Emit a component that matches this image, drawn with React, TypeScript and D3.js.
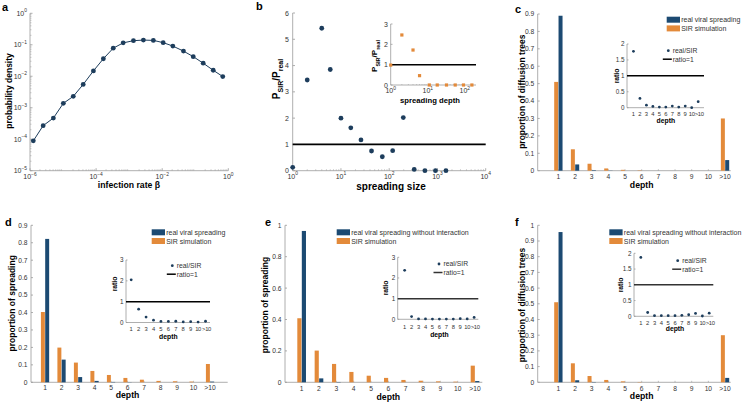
import React from 'react';
import * as d3 from 'd3';

const FONT = 'Arial, "Liberation Sans", Helvetica, sans-serif';
const BLUE = '#1c4a72';
const ORANGE = '#e38a3a';
const DOT = '#1d3d5c';
const AXIS = '#9a9a9a';
const TXT = '#333';

// a: infection rate distribution
const betaValues = [1.26e-6, 2.5e-6, 5.1e-6, 1.02e-5, 2.04e-5, 4.07e-5, 8.3e-5, 1.66e-4, 3.3e-4, 6.6e-4,
  1.35e-3, 2.7e-3, 5.4e-3, 1.07e-2, 2.1e-2, 4.4e-2, 8.7e-2, 0.174, 0.35, 0.68];
const betaDensity = [8.9e-5, 2.7e-4, 4.7e-4, 1.38e-3, 2.3e-3, 5.5e-3, 0.0148, 0.036, 0.078, 0.115,
  0.135, 0.141, 0.138, 0.117, 0.091, 0.063, 0.042, 0.026, 0.0155, 0.0098];

// b: SIR / real ratio by spreading size, inset by spreading depth
const sizeValues = [1, 2, 4, 6, 10, 16, 26, 43, 72, 118, 196, 330, 550, 910, 1500];
const sizeRatio = [0.13, 3.45, 5.42, 3.85, 2.0, 1.63, 1.17, 0.75, 0.53, 0.76, 2.02, 0.05, 0, 0, 0];
const depthValues = [1, 2, 4, 6, 11, 18, 32, 55, 92, 155];
const depthRatio = [0.98, 2.46, 1.72, 0.46, 0, 0, 0, 0, 0, 0];

const depthCats = ['1', '2', '3', '4', '5', '6', '7', '8', '9', '10', '>10'];

// c: diffusion trees
const treeSIR = [0.51, 0.123, 0.04, 0.013, 0.005, 0.002, 0, 0, 0, 0, 0.3];
const treeReal = [0.89, 0.036, 0.003, 0.001, 0, 0, 0, 0, 0, 0, 0.061];
const treeRatio = [1.77, 0.29, 0.08, 0.04, 0.02, 0.02, 0.05, 0.02, 0.05, 0, 0.19];

// d: spreading
const spreadSIR = [0.403, 0.199, 0.113, 0.065, 0.042, 0.025, 0.015, 0.008, 0.006, 0.004, 0.105];
const spreadReal = [0.822, 0.13, 0.03, 0.008, 0.002, 0.001, 0, 0, 0, 0, 0.004];
const spreadRatio = [2.05, 0.64, 0.26, 0.11, 0.05, 0.05, 0.06, 0.03, 0.04, 0.02, 0.06];

// e: spreading without interaction
const noIntSIR = [0.408, 0.202, 0.117, 0.066, 0.042, 0.028, 0.015, 0.01, 0.006, 0.004, 0.106];
const noIntReal = [0.964, 0.025, 0.002, 0, 0, 0, 0, 0, 0, 0, 0.008];
const noIntRatio = [2.37, 0.13, 0.02, 0.02, 0.01, 0.01, 0.01, 0.01, 0.03, 0.02, 0.09];

// f: diffusion trees without interaction
const noIntTreeSIR = [0.51, 0.121, 0.04, 0.015, 0.006, 0.002, 0, 0, 0, 0, 0.3];
const noIntTreeReal = [0.957, 0.013, 0.002, 0, 0, 0, 0, 0, 0, 0, 0.028];
const noIntTreeRatio = [1.87, 0.12, 0.02, 0.02, 0.02, 0.02, 0.03, 0.05, 0.09, 0.01, 0.1];

const fmt = (t: number) => String(+t.toFixed(2));

function Pow10({ x, y, exp, anchor = 'middle', size = 7 }: any) {
  return (
    <text x={x} y={y} textAnchor={anchor} fontSize={size} fill={TXT}>
      10<tspan dy={-size * 0.5} fontSize={size * 0.7}>{exp}</tspan>
    </text>
  );
}

function minorTicks(lo: number, hi: number) {
  const out: number[] = [];
  for (let e = lo; e < hi; e++) for (let k = 2; k < 10; k++) out.push(k * Math.pow(10, e));
  return out;
}

function PanelA() {
  const x = d3.scaleLog().domain([1e-6, 1]).range([30, 228.3]);
  const y = d3.scaleLog().domain([1e-5, 1]).range([170.7, 13.3]);
  const line = d3.line<number>().x((_, i) => x(betaValues[i])).y(d => y(d));
  return (
    <g>
      <text x={2} y={10.5} fontSize={11} fontWeight="bold">a</text>
      <line x1={30} x2={30} y1={13.3} y2={170.7} stroke={AXIS} strokeWidth={0.8} />
      <line x1={30} x2={228.3} y1={170.7} y2={170.7} stroke={AXIS} strokeWidth={0.8} />
      {minorTicks(-5, 0).map((t, i) => (
        <line key={'ym' + i} x1={30} x2={31.5} y1={y(t)} y2={y(t)} stroke={AXIS} strokeWidth={0.5} />
      ))}
      {minorTicks(-6, 0).map((t, i) => (
        <line key={'xm' + i} x1={x(t)} x2={x(t)} y1={170.7} y2={169.2} stroke={AXIS} strokeWidth={0.5} />
      ))}
      {d3.range(-5, 1).map(e => (
        <g key={'y' + e}>
          <line x1={30} x2={32.5} y1={y(Math.pow(10, e))} y2={y(Math.pow(10, e))} stroke={AXIS} strokeWidth={0.8} />
          <Pow10 x={27} y={y(Math.pow(10, e)) + 2.5} exp={e === 0 ? '0' : '−' + -e} anchor="end" />
        </g>
      ))}
      {[-6, -4, -2, 0].map(e => (
        <g key={'x' + e}>
          <line x1={x(Math.pow(10, e))} x2={x(Math.pow(10, e))} y1={170.7} y2={168.2} stroke={AXIS} strokeWidth={0.8} />
          <Pow10 x={x(Math.pow(10, e))} y={179} exp={e === 0 ? '0' : '−' + -e} />
        </g>
      ))}
      <path d={line(betaDensity) || ''} fill="none" stroke={DOT} strokeWidth={1} />
      {betaDensity.map((d, i) => (
        <circle key={i} cx={x(betaValues[i])} cy={y(d)} r={2.4} fill={DOT} />
      ))}
      <text x={129} y={188} textAnchor="middle" fontSize={8.7} fontWeight="bold">infection rate β</text>
      <text transform="translate(12,91) rotate(-90)" textAnchor="middle" fontSize={8.5} fontWeight="bold">probability density</text>
    </g>
  );
}

function PanelB() {
  const x = d3.scaleLog().domain([1, 1e4]).range([292.7, 485.7]);
  const y = d3.scaleLinear().domain([0, 6]).range([170.7, 13]);
  const ix = d3.scaleLog().domain([1, 200]).range([390.7, 476]);
  const iy = d3.scaleLinear().domain([0, 3]).range([85, 24]);
  return (
    <g>
      <text x={256} y={10} fontSize={11} fontWeight="bold">b</text>
      <line x1={292.7} x2={292.7} y1={13} y2={170.7} stroke={AXIS} strokeWidth={0.8} />
      <line x1={292.7} x2={485.7} y1={170.7} y2={170.7} stroke={AXIS} strokeWidth={0.8} />
      {minorTicks(0, 4).map((t, i) => (
        <line key={'xm' + i} x1={x(t)} x2={x(t)} y1={170.7} y2={169.2} stroke={AXIS} strokeWidth={0.5} />
      ))}
      {d3.range(0, 7).map(t => (
        <g key={'y' + t}>
          <line x1={292.7} x2={295} y1={y(t)} y2={y(t)} stroke={AXIS} strokeWidth={0.8} />
          <text x={289} y={y(t) + 2.5} textAnchor="end" fontSize={7} fill={TXT}>{t}</text>
        </g>
      ))}
      {d3.range(0, 5).map(e => (
        <g key={'x' + e}>
          <line x1={x(Math.pow(10, e))} x2={x(Math.pow(10, e))} y1={170.7} y2={168.2} stroke={AXIS} strokeWidth={0.8} />
          <Pow10 x={x(Math.pow(10, e))} y={178.5} exp={String(e)} />
        </g>
      ))}
      <line x1={292.7} x2={485.7} y1={y(1)} y2={y(1)} stroke="#000" strokeWidth={1.6} />
      {sizeRatio.map((d, i) => (
        <circle key={i} cx={x(sizeValues[i])} cy={y(d)} r={2.4} fill={DOT} />
      ))}
      <text x={391} y={190} textAnchor="middle" fontSize={10} fontWeight="bold">spreading size</text>
      <text transform="translate(280,79) rotate(-90)" textAnchor="middle" fontSize={10} fontWeight="bold">
        P<tspan fontSize={7} dy={3}>SIR</tspan><tspan dy={-3}>/P</tspan><tspan fontSize={7} dy={3}>real</tspan>
      </text>

      {/* inset */}
      <line x1={390.7} x2={390.7} y1={24} y2={85} stroke={AXIS} strokeWidth={0.8} />
      <line x1={390.7} x2={476} y1={85} y2={85} stroke={AXIS} strokeWidth={0.8} />
      {minorTicks(0, 3).filter(t => t < 200).map((t, i) => (
        <line key={'im' + i} x1={ix(t)} x2={ix(t)} y1={85} y2={84} stroke={AXIS} strokeWidth={0.5} />
      ))}
      {d3.range(0, 4).map(t => (
        <g key={'iy' + t}>
          <line x1={390.7} x2={392.5} y1={iy(t)} y2={iy(t)} stroke={AXIS} strokeWidth={0.8} />
          <text x={388} y={iy(t) + 2.5} textAnchor="end" fontSize={7} fill={TXT}>{t}</text>
        </g>
      ))}
      {d3.range(0, 3).map(e => (
        <Pow10 key={'ix' + e} x={ix(Math.pow(10, e))} y={93} exp={String(e)} />
      ))}
      <line x1={390.7} x2={476} y1={iy(1)} y2={iy(1)} stroke="#000" strokeWidth={1.5} />
      {depthRatio.map((d, i) => (
        <rect key={i} x={ix(depthValues[i]) - 1.6} y={iy(d) - 1.6} width={3.2} height={3.2} fill={ORANGE} />
      ))}
      <text x={430} y={102.5} textAnchor="middle" fontSize={7.7} fontWeight="bold">spreading depth</text>
      <text transform="translate(377,56) rotate(-90)" textAnchor="middle" fontSize={8} fontWeight="bold">
        P<tspan fontSize={5.5} dy={2.5}>SIR</tspan><tspan dy={-2.5}>/P</tspan><tspan fontSize={5.5} dy={2.5}>real</tspan>
      </text>
    </g>
  );
}

function RatioInset(p: any) {
  const x = d3.scaleLinear().domain(p.xDomain).range([p.left, p.right]);
  const y = d3.scaleLinear().domain([0, p.yMax]).range([p.bottom, p.top]);
  const ticks = d3.range(0, p.yMax + 1e-9, p.yStep);
  return (
    <g>
      <line x1={p.left} x2={p.left} y1={p.top} y2={p.bottom} stroke={AXIS} strokeWidth={0.8} />
      <line x1={p.left} x2={p.right} y1={p.bottom} y2={p.bottom} stroke={AXIS} strokeWidth={0.8} />
      {ticks.map(t => (
        <g key={'t' + t}>
          <line x1={p.left} x2={p.left + 1.5} y1={y(t)} y2={y(t)} stroke={AXIS} strokeWidth={0.8} />
          <text x={p.left - 2.5} y={y(t) + 2.2} textAnchor="end" fontSize={6.3} fill={TXT}>{fmt(t)}</text>
        </g>
      ))}
      {depthCats.map((c, i) => (
        <text key={c} x={x(i + 1) + (i === 10 ? 1 : 0)} y={p.catBaseline} textAnchor="middle" fontSize={5.8}
          letterSpacing={i >= 9 ? -0.3 : 0} fill={TXT}>{c}</text>
      ))}
      <line x1={p.left} x2={p.right} y1={y(1)} y2={y(1)} stroke={p.lineColor} strokeWidth={1.5} />
      {p.values.map((v: number, i: number) => (
        <circle key={i} cx={x(i + 1)} cy={y(v)} r={1.4} fill={DOT} />
      ))}
      <circle cx={p.legendX} cy={p.legendY} r={1.4} fill={DOT} />
      <text x={p.legendX + 4.5} y={p.legendY + 2.3} fontSize={6.8} fill={TXT}>real/SIR</text>
      <line x1={p.legendX - 5.5} x2={p.legendX + 3.5} y1={p.legendY + 8.5} y2={p.legendY + 8.5} stroke={p.lineColor} strokeWidth={1.5} />
      <text x={p.legendX + 4.5} y={p.legendY + 10.8} fontSize={6.8} fill={TXT}>ratio=1</text>
      <text transform={`translate(${p.ratioX + 2.5},${p.ratioY}) rotate(-90)`} textAnchor="middle" fontSize={6.8} fontWeight="bold">ratio</text>
      <text x={x(6)} y={p.depthBaseline} textAnchor="middle" fontSize={6.8} fontWeight="bold">depth</text>
    </g>
  );
}

function BarPanel(p: any) {
  const x = d3.scaleLinear().domain(p.xDomain).range([p.left, p.right]);
  const y = d3.scaleLinear().domain([0, p.yMax]).range([p.bottom, p.top]);
  const ticks = d3.range(0, p.yMax + 1e-9, p.yStep);
  return (
    <g>
      <text x={p.letterX} y={p.letterY} fontSize={11} fontWeight="bold">{p.letter}</text>
      <line x1={p.left} x2={p.left} y1={p.top} y2={p.bottom} stroke={AXIS} strokeWidth={0.8} />
      <line x1={p.left} x2={p.right} y1={p.bottom} y2={p.bottom} stroke={AXIS} strokeWidth={0.8} />
      {ticks.map(t => (
        <g key={'t' + t}>
          <line x1={p.left} x2={p.left + 2} y1={y(t)} y2={y(t)} stroke={AXIS} strokeWidth={0.8} />
          <text x={p.left - 3.5} y={y(t) + 2.4} textAnchor="end" fontSize={6.7} fill={TXT}>{fmt(t)}</text>
        </g>
      ))}
      {depthCats.map((c, i) => (
        <g key={c}>
          <line x1={x(i + 1)} x2={x(i + 1)} y1={p.bottom} y2={p.bottom - 1.5} stroke={AXIS} strokeWidth={0.6} />
          <text x={x(i + 1)} y={p.catBaseline} textAnchor="middle" fontSize={6.7} fill={TXT}>{c}</text>
        </g>
      ))}
      {p.sir.map((v: number, i: number) => (
        <rect key={'s' + i} x={x(i + 1 - 0.25)} y={y(v)} width={x(i + 0.99) - x(i + 0.75)} height={p.bottom - y(v)} fill={ORANGE} />
      ))}
      {p.real.map((v: number, i: number) => (
        <rect key={'r' + i} x={x(i + 1.01)} y={y(v)} width={x(i + 1.25) - x(i + 1.01)} height={p.bottom - y(v)} fill={BLUE} />
      ))}
      <rect x={p.legendX} y={p.legendY} width={13.3} height={6} fill={BLUE} />
      <text x={p.legendX + 14.5} y={p.legendY + 5.5} fontSize={7} fill={TXT}>{p.legendLabel}</text>
      <rect x={p.legendX} y={p.legendY + 8.7} width={13.3} height={6} fill={ORANGE} />
      <text x={p.legendX + 14.5} y={p.legendY + 14.2} fontSize={7} fill={TXT}>SIR simulation</text>
      <text x={x(6)} y={p.depthBaseline} textAnchor="middle" fontSize={8.7} fontWeight="bold">depth</text>
      <text transform={`translate(${p.yLabelX + 3},${p.yLabelY}) rotate(-90)`} textAnchor="middle" fontSize={8.5} fontWeight="bold">{p.yLabel}</text>
      <RatioInset {...p.inset} />
    </g>
  );
}

export default function App() {
  return (
    <svg width={744} height={404} style={{ position: 'absolute', left: 0, top: 0, background: '#fff', fontFamily: FONT }}>
      <PanelA />
      <PanelB />
      <BarPanel
        letter="c" letterX={515} letterY={12.7}
        left={537.7} right={730.7} top={14} bottom={170.7} yMax={0.9} yStep={0.1} xDomain={[-0.24, 11.34]}
        sir={treeSIR} real={treeReal}
        legendX={666.7} legendY={16.7} legendLabel="real viral spreading"
        catBaseline={178.5} depthBaseline={187.5}
        yLabel="proportion of diffusion trees" yLabelX={521.5} yLabelY={91.7}
        inset={{
          left: 627, right: 704, top: 44, bottom: 107.7, yMax: 2, yStep: 0.5, xDomain: [0, 11.9],
          values: treeRatio, legendX: 668.3, legendY: 50.7, lineColor: '#000',
          ratioX: 616, ratioY: 76, catBaseline: 116, depthBaseline: 122.5,
        }}
      />
      <BarPanel
        letter="d" letterX={5} letterY={226}
        left={31} right={227.7} top={225.3} bottom={382.3} yMax={0.9} yStep={0.1} xDomain={[0.15, 12.07]}
        sir={spreadSIR} real={spreadReal}
        legendX={151.7} legendY={229.3} legendLabel="real viral spreading"
        catBaseline={390} depthBaseline={398}
        yLabel="proportion of spreading" yLabelX={11.5} yLabelY={303.3}
        inset={{
          left: 126, right: 210, top: 260, bottom: 322.5, yMax: 3, yStep: 1, xDomain: [0.3, 11.6],
          values: spreadRatio, legendX: 172.3, legendY: 265.7, lineColor: '#000',
          ratioX: 114, ratioY: 284, catBaseline: 331, depthBaseline: 338.5,
        }}
      />
      <BarPanel
        letter="e" letterX={265} letterY={225.5}
        left={285} right={482.3} top={225.3} bottom={382.3} yMax={1} yStep={0.2} xDomain={[0.04, 11.42]}
        sir={noIntSIR} real={noIntReal}
        legendX={336.7} legendY={229.3} legendLabel="real viral spreading without interaction"
        catBaseline={391} depthBaseline={399.5}
        yLabel="proportion of spreading" yLabelX={265} yLabelY={305}
        inset={{
          left: 397.7, right: 478.3, top: 257.3, bottom: 319.3, yMax: 3, yStep: 1, xDomain: [0, 11.6],
          values: noIntRatio, legendX: 439, legendY: 264, lineColor: '#333',
          ratioX: 385, ratioY: 288, catBaseline: 328.5, depthBaseline: 336.5,
        }}
      />
      <BarPanel
        letter="f" letterX={515} letterY={225.5}
        left={537.7} right={730.7} top={225.3} bottom={382.3} yMax={1} yStep={0.1} xDomain={[-0.24, 11.34]}
        sir={noIntTreeSIR} real={noIntTreeReal}
        legendX={609.3} legendY={229.3} legendLabel="real viral spreading without interaction"
        catBaseline={391} depthBaseline={399}
        yLabel="proportion of diffusion trees" yLabelX={521.5} yLabelY={305}
        inset={{
          left: 634, right: 713.3, top: 253.3, bottom: 316.3, yMax: 2, yStep: 0.5, xDomain: [0, 11.6],
          values: noIntTreeRatio, legendX: 677.7, legendY: 260.7, lineColor: '#333',
          ratioX: 620, ratioY: 285, catBaseline: 324.5, depthBaseline: 331,
        }}
      />
    </svg>
  );
}
